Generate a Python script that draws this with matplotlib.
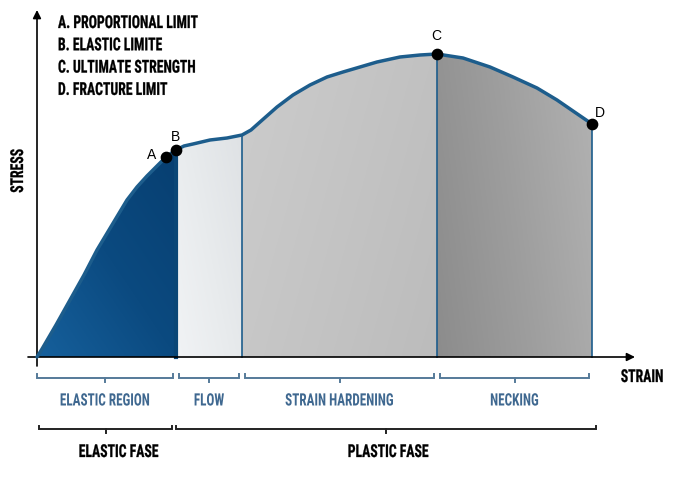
import numpy as np
import matplotlib.pyplot as plt
from matplotlib.colors import LinearSegmentedColormap
from matplotlib.patches import Polygon
from matplotlib.patheffects import AbstractPathEffect
from matplotlib.transforms import Affine2D

# stress-strain curve (arbitrary units)
strain = [0, 5, 19, 33, 47, 60, 75, 90, 100, 110, 120, 129, 139,
          147, 156, 173, 190, 205,
          214, 223, 240, 256, 273, 290, 306, 323, 340, 363, 383, 400,
          426, 453, 476, 500, 520, 536, 555]
stress = [0, 8, 32, 57, 82, 107, 132, 157, 170, 181, 191, 200, 207,
          211, 213, 217, 219, 222,
          227, 235, 250, 262, 272, 280, 285, 290, 295, 300, 302, 303,
          299, 290, 280, 269, 257, 246, 233]

point_names = ["A", "B", "C", "D"]
point_strain = [129, 139, 400, 555]
point_stress = [200, 207, 303, 233]

legend_lines = ["A. PROPORTIONAL LIMIT", "B. ELASTIC LIMITE",
                "C. ULTIMATE STRENGTH", "D. FRACTURE LIMIT"]

region_names = ["ELASTIC REGION", "FLOW", "STRAIN HARDENING", "NECKING"]
region_edges = [0, 139, 205, 400, 555]
phase_names = ["ELASTIC FASE", "PLASTIC FASE"]
phase_edges = [0, 139, 555]

xs = np.array(strain, dtype=float)
ys = np.array(stress, dtype=float)


class Squeeze(AbstractPathEffect):
    # narrows (and thickens a bit) the glyphs, the font on the picture is more condensed
    def __init__(self, sx=0.75, anchor='center', lw=0.0):
        super().__init__()
        self.sx = sx
        self.anchor = anchor
        self.lw = lw

    def draw_path(self, renderer, gc, tpath, affine, rgbFace=None):
        ext = tpath.get_extents()
        cx = 0 if self.anchor == 'left' else (ext.x0 + ext.x1) / 2
        pre = Affine2D().translate(-cx, 0).scale(self.sx, 1).translate(cx, 0)
        gc0 = renderer.new_gc()
        gc0.copy_properties(gc)
        gc0.set_foreground(rgbFace)
        gc0.set_linewidth(self.lw)
        renderer.draw_path(gc0, tpath, pre + affine, rgbFace)
        gc0.restore()


fig = plt.figure(figsize=(7, 5), dpi=100)
ax = fig.add_axes([0, 0, 1, 1])
ax.axis('off')

cond = ['Roboto Condensed', 'DejaVu Sans']
curve_col = '#1d5d8c'
sq_c = [Squeeze(0.77, lw=0.2)]
sq_l = [Squeeze(0.77, 'left', lw=0.2)]
sq_b = [Squeeze(0.77)]


def grad_fill(x0, x1, colors, diag=0.0):
    m = (xs >= x0) & (xs <= x1)
    verts = [(x0, 0)] + list(zip(xs[m], ys[m])) + [(x1, 0)]
    patch = Polygon(verts, closed=True, facecolor='none', edgecolor='none')
    ax.add_patch(patch)
    top = ys[m].max()
    gx, gy = np.meshgrid(np.linspace(0, 1, 200), np.linspace(0, 1, 200))
    img = (1 - abs(diag)) * gx + diag * gy
    img = (img - img.min()) / (img.max() - img.min())
    cmap = LinearSegmentedColormap.from_list('g', colors)
    im = ax.imshow(img, cmap=cmap, extent=[x0, x1, 0, top], origin='lower',
                   aspect='auto', interpolation='bilinear', zorder=1)
    im.set_clip_path(patch)


grad_fill(region_edges[0], region_edges[1], ['#16609c', '#0b4a80', '#073f71'], diag=0.5)
grad_fill(region_edges[1], region_edges[2], ['#f1f3f5', '#e8ebed', '#dfe2e5'], diag=0.4)
grad_fill(region_edges[2], region_edges[3], ['#cccccc', '#c4c4c4', '#bcbcbc'], diag=-0.3)
grad_fill(region_edges[3], region_edges[4], ['#8c8c8c', '#9e9e9e', '#b2b2b2'], diag=0.2)

# region boundary lines
for i, e in enumerate(region_edges[1:]):
    top = ys[xs == e][0]
    ax.plot([e, e], [0, top], color='#0a4676' if i == 0 else curve_col,
            lw=3 if i == 0 else 1.2, zorder=3)

ax.plot(xs, ys, color=curve_col, lw=2.5, solid_capstyle='round',
        solid_joinstyle='round', zorder=4)
ax.scatter(point_strain, point_stress, s=55, color='black', zorder=5)

offsets = {"A": (-14, 2), "B": (-1, 13), "C": (-1, 18), "D": (8, 11)}
for n, px, py in zip(point_names, point_strain, point_stress):
    dx, dy = offsets[n]
    ax.text(px + dx, py + dy, n, fontsize=10, family='Liberation Sans',
            ha='center', va='center', zorder=6)

# axes with arrows
ax.annotate('', xy=(0, 347), xytext=(0, -9),
            arrowprops=dict(arrowstyle='-|>', color='black', lw=1.2,
                            mutation_scale=12, shrinkA=0, shrinkB=0))
ax.annotate('', xy=(598, 0), xytext=(-9, 0),
            arrowprops=dict(arrowstyle='-|>', color='black', lw=1.2,
                            mutation_scale=12, shrinkA=0, shrinkB=0))
ax.text(-19, 186, 'STRESS', rotation=90, ha='center', va='center',
        fontsize=12.8, weight='bold', family=cond, path_effects=sq_c)
ax.text(605, -20, 'STRAIN', ha='center', va='center',
        fontsize=12.8, weight='bold', family=cond, path_effects=sq_c)

for i, t in enumerate(legend_lines):
    ax.text(21, 334 - i * 22.3, t, ha='left', va='center', fontsize=12.8,
            weight='bold', family=cond, path_effects=sq_l)


def bracket(x0, x1, y, color, lw, up=4):
    mid = (x0 + x1) / 2
    ax.plot([x0, x0, x1, x1], [y + up, y, y, y + up], color=color, lw=lw,
            solid_joinstyle='miter')
    ax.plot([mid, mid], [y, y - 4], color=color, lw=lw)
    return mid


blue_txt = '#3f6890'
for i, name in enumerate(region_names):
    a = region_edges[i] + (0 if i == 0 else 3)
    b = region_edges[i + 1] - 3
    mid = bracket(a, b, -20.5, '#557a99', 1.4)
    ax.text(mid, -44, name, ha='center', va='center', fontsize=12.3,
            weight='bold', color=blue_txt, family=cond, path_effects=sq_b)

for i, name in enumerate(phase_names):
    a = phase_edges[i] + (2 if i == 0 else 0)
    b = phase_edges[i + 1] - (4 if i == 0 else -4)
    mid = bracket(a, b, -72, '#222222', 1.4, up=3)
    ax.text(mid + (13 if i == 0 else 2), -95, name, ha='center', va='center',
            fontsize=12.8, weight='bold', family=cond, path_effects=sq_c)

ax.set_xlim(-37, 663)
ax.set_ylim(-143, 357)

fig.savefig('out.png', dpi=100, facecolor='white')
